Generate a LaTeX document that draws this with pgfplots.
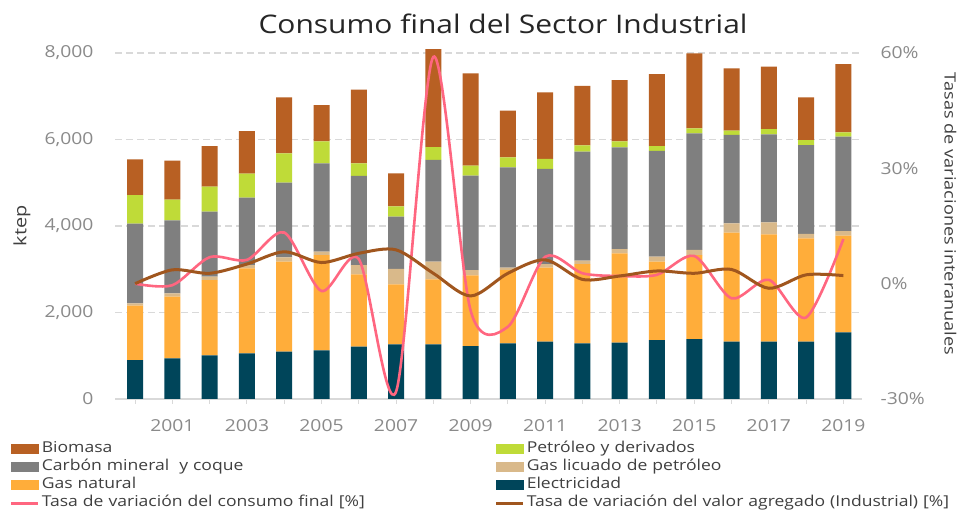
\documentclass[border=0pt]{standalone}
\usepackage{fontspec}
\setmainfont{Open Sans}[FakeStretch=1.17]
\usepackage{pgfplots}
\pgfplotsset{compat=1.18}
\definecolor{bioC}{HTML}{B86023}
\definecolor{petC}{HTML}{BFDB38}
\definecolor{coalC}{HTML}{7F7F7F}
\definecolor{lpgC}{HTML}{D9B98A}
\definecolor{gasC}{HTML}{FFAD3A}
\definecolor{elecC}{HTML}{00455A}
\definecolor{pinkC}{HTML}{FF6680}
\definecolor{brownC}{HTML}{A0561E}
\definecolor{gridC}{HTML}{D9D9D9}
\definecolor{tickC}{HTML}{8A8A8A}
\definecolor{labC}{HTML}{404040}
\definecolor{titleC}{HTML}{262626}
\pgfplotsset{
  sw/.style={legend image code/.code={\fill[#1] (0pt,-4.5pt) rectangle (27pt,4.5pt);}},
}
\pgfplotstableread{
x elec gas lpg coal pet bio
0 900 1257 55 1840 663 825
1 940 1426 77 1688 478 901
2 1010 1741 77 1503 578 940
3 1056 1965 77 1557 555 986
4 1094 2081 101 1726 678 1295
5 1125 2204 77 2043 508 840
6 1210 1672 216 2058 293 1703
7 1264 1387 355 1210 239 763
8 1264 1503 408 2351 300 2266
9 1225 1635 122 2181 231 2136
10 1287 1695 54 2320 232 1078
11 1325 1711 85 2197 231 1542
12 1287 1834 77 2520 147 1372
13 1302 2066 100 2351 138 1418
14 1364 1811 115 2444 115 1665
15 1387 1942 116 2698 116 1734
16 1325 2520 217 2042 99 1443
17 1325 2483 277 2035 122 1441
18 1325 2390 100 2057 116 987
19 1542 2234 108 2181 101 1579
}\bars
\begin{document}
\begin{tikzpicture}[x=1pt,y=1pt]
\useasboundingbox (0,0) rectangle (965,510);
\fill[white] (0,0) rectangle (965,510);
\begin{axis}[
  at={(115pt,111pt)}, anchor=south west,
  width=747pt, height=346pt, scale only axis,
  xmin=-0.54, xmax=19.5, ymin=0, ymax=8000,
  clip=false,
  ybar stacked, bar width=16pt,
  xtick={0,...,19},
  xticklabels={,2001,,2003,,2005,,2007,,2009,,2011,,2013,,2015,,2017,,2019},
  ytick={0,2000,4000,6000,8000},
  /pgf/number format/.cd, 1000 sep={,}, assume math mode=true, /pgfplots/.cd,
  ymajorgrids,
  grid style={gridC, line width=1.2pt, dash pattern=on 7pt off 4pt},
  axis x line*=bottom, axis y line*=left,
  y axis line style={draw=none},
  x axis line style={draw=gridC, line width=1.2pt, -},
  ytick style={draw=none},
  xtick style={draw=gridC, line width=1pt},
  tick align=outside, major tick length=5pt,
  tick label style={font=\fontsize{16.5}{19}\selectfont, text=tickC},
  xticklabel style={yshift=-12pt},
  yticklabel style={xshift=-13pt},
  title={Consumo final del Sector Industrial},
  title style={at={(axis description cs:0.5194,1.066)}, anchor=center, font=\fontsize{25.6}{31}\selectfont, text=titleC},
  ylabel={ktep},
  every axis y label/.style={at={(axis description cs:-0.1245,0.5)}, anchor=center, rotate=90, font=\fontsize{17}{20}\selectfont, text=labC},
]
\addplot[fill=elecC, draw=none] table[x=x, y=elec] {\bars};
\addplot[fill=gasC, draw=none] table[x=x, y=gas] {\bars};
\addplot[fill=lpgC, draw=none] table[x=x, y=lpg] {\bars};
\addplot[fill=coalC, draw=none] table[x=x, y=coal] {\bars};
\addplot[fill=petC, draw=none] table[x=x, y=pet] {\bars};
\addplot[fill=bioC, draw=none] table[x=x, y=bio] {\bars};
\end{axis}
\begin{axis}[
  at={(115pt,111pt)}, anchor=south west,
  width=747pt, height=346pt, scale only axis,
  xmin=-0.54, xmax=19.5, ymin=-30, ymax=60,
  axis x line=none, axis y line*=right,
  y axis line style={draw=none}, ytick style={draw=none},
  ytick={-30,0,30,60},
  /pgf/number format/assume math mode=true,
  yticklabel={\pgfmathprintnumber{\tick}\%},
  tick label style={font=\fontsize{16.5}{19}\selectfont, text=tickC},
  yticklabel style={xshift=15pt},
  ylabel={Tasas de variaciones interanuales},
  every axis y label/.style={at={(axis description cs:1.1185,0.5347)}, anchor=center, rotate=-90, font=\fontsize{15.5}{19}\selectfont, text=labC},
  legend image code/.code={\draw[#1] (0pt,0pt) -- (27pt,0pt);},
  legend columns=2, legend cell align=left,
  legend style={at={(axis description cs:-0.1406,-0.1167)}, anchor=north west,
    draw=none, fill=none, inner sep=0pt, row sep=0pt,
    font=\fontsize{15}{18}\selectfont, text=labC,
    nodes={inner xsep=2pt, inner ysep=1.6pt, text height=11pt, text depth=4pt, text width=451pt}},
]
\addlegendimage{sw=bioC}\addlegendentry{Biomasa}
\addlegendimage{sw=petC}\addlegendentry{Petróleo y derivados}
\addlegendimage{sw=coalC}\addlegendentry{Carbón mineral\ \ y coque}
\addlegendimage{sw=lpgC}\addlegendentry{Gas licuado de petróleo}
\addlegendimage{sw=gasC}\addlegendentry{Gas natural}
\addlegendimage{sw=elecC}\addlegendentry{Electricidad}
\addplot[pinkC, line width=2.6pt, smooth, tension=0.48] coordinates {
(0,0) (1,-0.4) (2,6.9) (3,6.2) (4,13.3) (5,-1.9) (6,6.4) (7,-28.1) (8,59) (9,-7)
(10,-11.2) (11,7.0) (12,2.7) (13,2.0) (14,2.3) (15,7.2) (16,-3.8) (17,1.0) (18,-8.8) (19,11.6)};
\addlegendentry{Tasa de variación del consumo final [\%]}
\addplot[brownC, line width=3pt, smooth] coordinates {
(0,0) (1,3.6) (2,2.7) (3,5.1) (4,8.3) (5,5.5) (6,7.9) (7,8.8) (8,2.7) (9,-3.2)
(10,2.7) (11,6.2) (12,1.1) (13,2.0) (14,3.3) (15,2.7) (16,3.7) (17,-1.2) (18,2.3) (19,2.1)};
\addlegendentry{Tasa de variación del valor agregado (Industrial) [\%]}
\end{axis}
\end{tikzpicture}
\end{document}
